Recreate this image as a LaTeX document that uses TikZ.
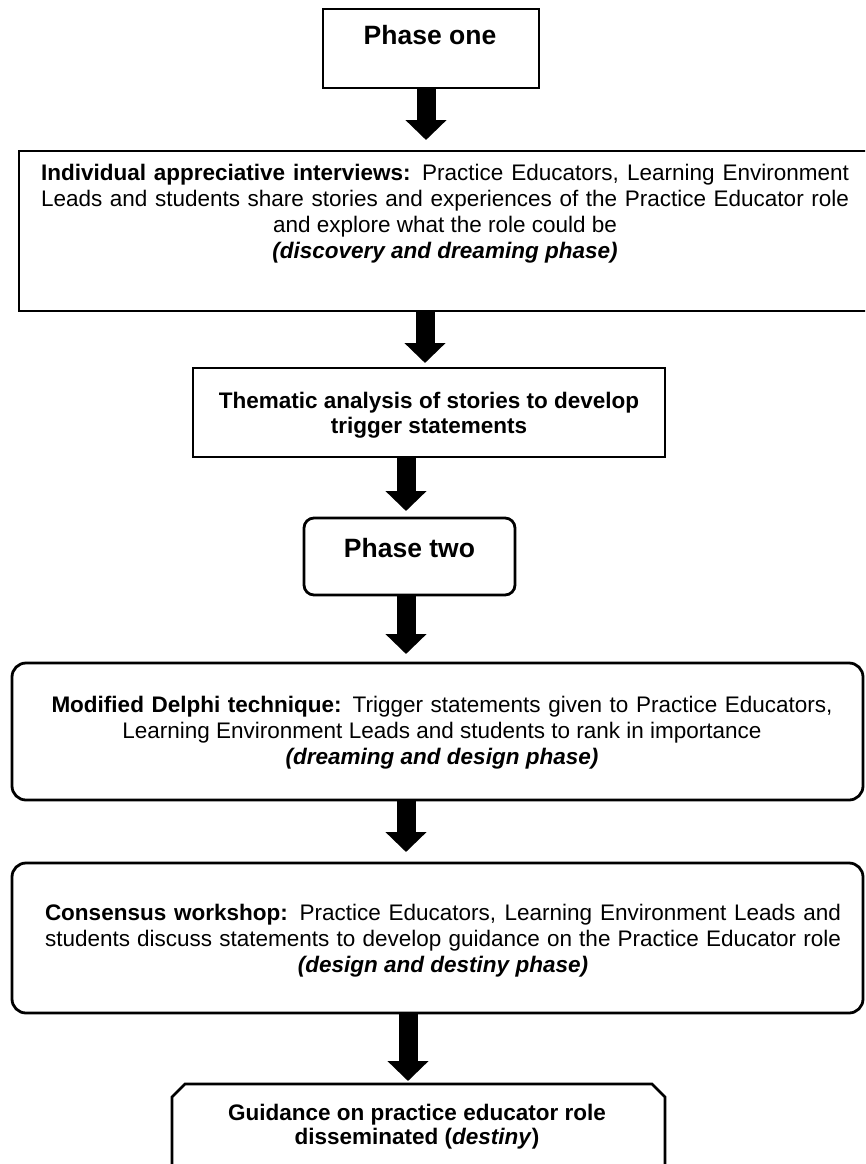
\documentclass[tikz,border=0pt]{standalone}
\usepackage{fontspec}
\setmainfont{Liberation Sans}
\usetikzlibrary{positioning, arrows.meta}
\def\snip{13pt}
\tikzstyle{stage}=[draw, line width=2.8pt, inner sep=0pt, outer sep=0pt]
\tikzstyle{round stage}=[stage, rounded corners=14pt]
\tikzstyle{phase stage}=[stage, rounded corners=10pt]
\tikzstyle{snip stage}=[inner sep=0pt, outer sep=0pt]
\tikzstyle{snip line}=[line width=2.8pt, line join=miter]
\tikzstyle{body}=[align=center, inner sep=0pt, outer sep=0pt, font=\fontsize{22.5}{26}\selectfont]
\tikzstyle{title}=[inner sep=0pt, outer sep=0pt, font=\fontsize{26.5}{30}\selectfont\bfseries]
\tikzstyle{flow}=[line width=19pt, -{Triangle[width=40pt,length=20pt]}]

\begin{document}
\begin{tikzpicture}[x=1pt, y=-1pt]
		\clip (0,0) rectangle (865,1164);
		% Draw the stage boxes
		\node[stage, minimum width=216pt, minimum height=79pt] (phase1) at (431,48.5) {};
		\node[stage, minimum width=852pt, minimum height=160pt] (interview) at (445,231) {};
		\node[stage, minimum width=472pt, minimum height=89pt] (thematic) at (429,412.5) {};
		\node[phase stage, minimum width=211pt, minimum height=77pt] (phase2) at (409.5,556.5) {};
		\node[round stage, minimum width=851pt, minimum height=137pt] (delphi) at (437.5,731.5) {};
		\node[round stage, minimum width=851pt, minimum height=150pt] (workshop) at (437.5,938) {};
		\node[snip stage, minimum width=493pt, minimum height=150pt] (guidance) at (418.5,1159) {};
		% The last box has snipped corners
		\draw[snip line] (guidance.south west) -- ([yshift=-\snip]guidance.north west)
			-- ([xshift=\snip]guidance.north west) -- ([xshift=-\snip]guidance.north east)
			-- ([yshift=-\snip]guidance.north east) -- (guidance.south east);
		% Texts of the boxes
		\node[title, anchor=base] (phase1-t) at ([xshift=-1pt, yshift=-36pt]phase1.north) {Phase one};
		\node[body, below=13pt of interview.north] (interview-t) {%
			\makebox[808pt][s]{\textbf{Individual appreciative interviews:} Practice Educators, Learning Environment}\\
			\makebox[808pt][s]{Leads and students share stories and experiences of the Practice Educator role}\\
			and explore what the role could be\\
			\textbf{\textit{(discovery and dreaming phase)}}};
		\node[body, font=\fontsize{22.5}{25}\selectfont\bfseries, below=24pt of thematic.north] (thematic-t) {Thematic analysis of stories to develop\\ trigger statements};
		\node[title, anchor=base] (phase2-t) at ([yshift=-39pt]phase2.north) {Phase two};
		\node[body, below=33pt of delphi.north, xshift=4.5pt] (delphi-t) {%
			\makebox[781pt][s]{\textbf{Modified Delphi technique:} Trigger statements given to Practice Educators,}\\
			Learning Environment Leads and students to rank in importance\\
			\textbf{\textit{(dreaming and design phase)}}};
		\node[body, below=41pt of workshop.north, xshift=5.5pt] (workshop-t) {%
			\makebox[796pt][s]{\textbf{Consensus workshop:} Practice Educators, Learning Environment Leads and}\\
			\makebox[796pt][s]{students discuss statements to develop guidance on the Practice Educator role}\\
			\textbf{\textit{(design and destiny phase)}}};
		\node[body, font=\fontsize{22.5}{24}\selectfont\bfseries, below=20pt of guidance.north, xshift=-1.5pt] (guidance-t) {Guidance on practice educator role\\ disseminated (\textit{destiny})};
		% Connect the stages with block arrows
		\draw[flow, shorten >=11pt] ([xshift=-5pt]phase1.south) -- ([xshift=-5pt]phase1.south |- interview.north);
		\draw[flow, shorten >=5pt] ([xshift=-20pt]interview.south) -- ([xshift=-20pt]interview.south |- thematic.north);
		\draw[flow, shorten >=7pt] ([xshift=-23pt]thematic.south) -- ([xshift=-23pt]thematic.south |- phase2.north);
		\draw[flow, shorten >=9pt] ([xshift=-3.5pt]phase2.south) -- ([xshift=-3.5pt]phase2.south |- delphi.north);
		\draw[flow, shorten >=11pt] ([xshift=-31.5pt]delphi.south) -- ([xshift=-31.5pt]delphi.south |- workshop.north);
		\draw[flow, shorten >=3pt] ([xshift=-29.5pt]workshop.south) -- ([xshift=-29.5pt]workshop.south |- guidance.north);
	\end{tikzpicture}
\end{document}
